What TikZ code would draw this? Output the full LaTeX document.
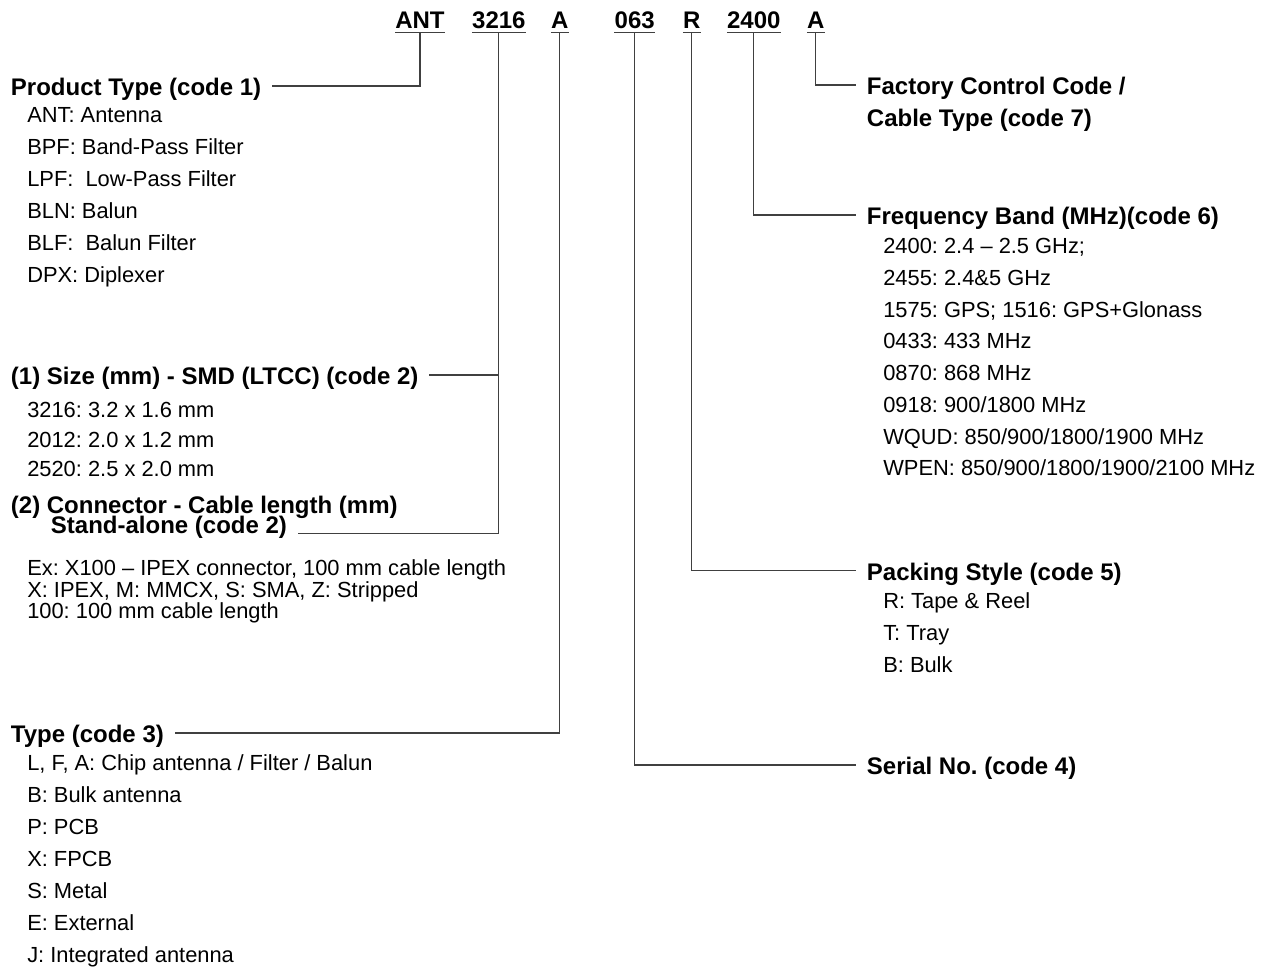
\documentclass[tikz,border=0pt]{standalone}
\usepackage{fontspec}
\setmainfont{Liberation Sans}
\usetikzlibrary{positioning}
\frenchspacing

\begin{document}
\begin{tikzpicture}[
    x=0.75pt, y=-0.75pt,
    node distance=20.25pt,
    code/.style={font=\fontsize{18}{20}\selectfont\bfseries, inner xsep=0pt, inner ysep=3pt, text height=13.5pt, text depth=0pt},
    head/.style={font=\fontsize{18}{20}\selectfont\bfseries, anchor=west, inner xsep=8pt, inner ysep=0pt, text height=14.4pt, text depth=0pt},
    list/.style={font=\fontsize{16.4}{24}\selectfont, anchor=base west, align=left, inner sep=0pt},
    wire/.style={draw=black!75, line width=0.8pt}
]
\useasboundingbox (0,0) rectangle (1266,971);

% Part number
\node[code, anchor=base] (prod) at (420,28) {ANT};
\node[code, right=of prod] (size) {3216};
\node[code, right=18.75pt of size] (type) {A};
\node[code, right=34.25pt of type] (serial) {063};
\node[code, right=21pt of serial] (pack) {R};
\node[code, right=19.5pt of pack] (band) {2400};
\node[code, right=19.5pt of band] (fact) {A};

\draw[wire] (prod.south west) -- (prod.south east)
    (size.south west) -- (size.south east)
    (type.south west) -- (type.south east)
    (serial.south west) -- (serial.south east)
    (pack.south west) -- (pack.south east)
    (band.south west) -- (band.south east)
    (fact.south west) -- (fact.south east);

% Left column (lists sit on the baseline of their last line)
\node[head] (prod_hd) at (0,86) {Product Type (code 1)};
\node[list] (prod_list) at (27,282.8) {ANT: Antenna\\BPF: Band-Pass Filter\\LPF:~ Low-Pass Filter\\BLN: Balun\\BLF:~ Balun Filter\\DPX: Diplexer};

\node[head] (size_hd) at (0,375) {(1) Size (mm) - SMD (LTCC) (code 2)};
\node[list, font=\fontsize{16.4}{22.1}\selectfont] (size_list) at (27,476.8) {3216: 3.2 x 1.6 mm\\2012: 2.0 x 1.2 mm\\2520: 2.5 x 2.0 mm};

\node[head] (conn_hd) at (0,503.5) {(2) Connector - Cable length (mm)};
\node[head] (stand_hd) at (40,523.4) {Stand-alone (code 2)};
\node[list, font=\fontsize{16.4}{16.1}\selectfont] (conn_list) at (27,618.8) {Ex: X100 -- IPEX connector, 100 mm cable length\\X: IPEX, M: MMCX, S: SMA, Z: Stripped\\100: 100 mm cable length};

\node[head] (type_hd) at (0,733) {Type (code 3)};
\node[list, font=\fontsize{16.4}{24.1}\selectfont] (type_list) at (27,962.8) {L, F, A: Chip antenna / Filter / Balun\\B: Bulk antenna\\P: PCB\\X: FPCB\\S: Metal\\E: External\\J: Integrated antenna};

% Right column
\node[head] (fact_hd) at (856,85) {Factory Control Code /};
\node[head] (cable_hd) at (856,117) {Cable Type (code 7)};

\node[head] (band_hd) at (856,215) {Frequency Band (MHz)(code 6)};
\node[list, font=\fontsize{16.4}{23.8}\selectfont] (band_list) at (883,475.8) {2400: 2.4 -- 2.5 GHz;\\2455: 2.4\&5 GHz\\1575: GPS; 1516: GPS+Glonass\\0433: 433 MHz\\0870: 868 MHz\\0918: 900/1800 MHz\\WQUD: 850/900/1800/1900 MHz\\WPEN: 850/900/1800/1900/2100 MHz};

\node[head] (pack_hd) at (856,570.5) {Packing Style (code 5)};
\node[list] (pack_list) at (883,672.3) {R: Tape \& Reel\\T: Tray\\B: Bulk};

\node[head] (serial_hd) at (856,765) {Serial No. (code 4)};

% Connectors
\draw[wire] (prod.south) |- (prod_hd.east);
\draw[wire] (size.south) |- (stand_hd.south east);
\draw[wire] (size_hd.east) -- (size_hd.east -| size.south);
\draw[wire] (type.south) |- (type_hd.east);
\draw[wire] (serial.south) |- (serial_hd.west);
\draw[wire] (pack.south) |- (pack_hd.west);
\draw[wire] (band.south) |- (band_hd.west);
\draw[wire] (fact.south) |- (fact_hd.west);

\end{tikzpicture}
\end{document}
